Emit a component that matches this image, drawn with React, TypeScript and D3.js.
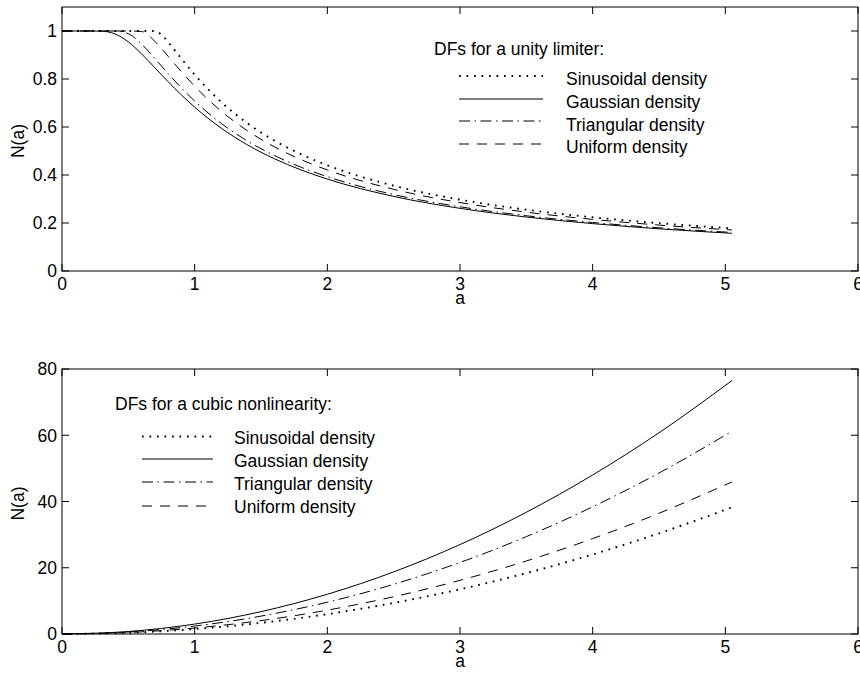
import React from "react";
import * as d3 from "d3";

// ---------- data ----------
const limiterA = [0, 0.1, 0.2, 0.3, 0.4, 0.5, 0.6, 0.7, 0.75, 0.8, 0.9, 1.0, 1.2, 1.4, 1.6, 1.8, 2.0, 2.5, 3.0, 3.5, 4.0, 4.5, 5.05];
const limiterSinusoidal = [1, 1, 1, 1, 1, 1, 1, 1, 0.9838, 0.9541, 0.8848, 0.8183, 0.7042, 0.6147, 0.5437, 0.487, 0.4406, 0.3552, 0.2973, 0.2555, 0.2239, 0.1993, 0.1777];
const limiterGaussian = [1, 1, 1, 0.9992, 0.9876, 0.9545, 0.9044, 0.8469, 0.8176, 0.7887, 0.7335, 0.6827, 0.5953, 0.525, 0.468, 0.4215, 0.383, 0.3108, 0.2611, 0.2249, 0.1974, 0.1758, 0.157];
const limiterTriangular = [1, 1, 1, 1, 1, 0.9888, 0.9451, 0.8854, 0.8539, 0.8227, 0.7629, 0.7082, 0.615, 0.5409, 0.4814, 0.4329, 0.393, 0.3186, 0.2675, 0.2303, 0.2021, 0.18, 0.1607];
const limiterUniform = [1, 1, 1, 1, 1, 1, 0.998, 0.9566, 0.9266, 0.8946, 0.8302, 0.7698, 0.666, 0.5835, 0.5178, 0.4646, 0.421, 0.3403, 0.2851, 0.2452, 0.215, 0.1914, 0.1707];

const cubicA = [0, 0.5, 1, 1.5, 2, 2.5, 3, 3.5, 4, 4.5, 5.05];
const cubicSinusoidal = [0, 0.375, 1.5, 3.375, 6, 9.375, 13.5, 18.375, 24, 30.375, 38.25];
const cubicGaussian = [0, 0.75, 3, 6.75, 12, 18.75, 27, 36.75, 48, 60.75, 76.51];
const cubicTriangular = [0, 0.6, 2.4, 5.4, 9.6, 15, 21.6, 29.4, 38.4, 48.6, 61.21];
const cubicUniform = [0, 0.45, 1.8, 4.05, 7.2, 11.25, 16.2, 22.05, 28.8, 36.45, 45.9];

const seriesNames = ["Sinusoidal density", "Gaussian density", "Triangular density", "Uniform density"];
const xTicks = [0, 1, 2, 3, 4, 5, 6];
const topYTicks = [0, 0.2, 0.4, 0.6, 0.8, 1];
const bottomYTicks = [0, 20, 40, 60, 80];
const topTitle = "DFs for a unity limiter:";
const bottomTitle = "DFs for a cubic nonlinearity:";

// ---------- styles ----------
const FONT = "'Liberation Sans', Arial, Helvetica, sans-serif";
const FS = 17.5;
const styles = [
  { dash: "1.7,5.8", width: 1.9 },
  { dash: "none", width: 1 },
  { dash: "11,4.5,1.5,4.5", width: 1 },
  { dash: "10,8", width: 1 },
];

const W = 860;
const H = 677;
const X0 = 62;
const X1 = 858;

type PanelProps = {
  xs: number[];
  series: number[][];
  yDomain: [number, number];
  yRange: [number, number];
  yTicks: number[];
  yFmt: (v: number) => string;
  title: string;
  titleX: number;
  titleY: number;
  legLineX0: number;
  legLineX1: number;
  legTextX: number;
  legLineY: number[];
  legTextY: number[];
};

function Panel(p: PanelProps) {
  const x = d3.scaleLinear().domain([0, 6]).range([X0, X1]);
  const y = d3.scaleLinear().domain(p.yDomain).range(p.yRange);
  const [yb, yt] = p.yRange;
  const line = d3
    .line<number>()
    .x((_, i) => x(p.xs[i]))
    .y((d) => y(d))
    .curve(d3.curveMonotoneX);
  const tick = 7;
  return (
    <g>
      {p.series.map((s, i) => (
        <path
          key={"c" + i}
          d={line(s) || ""}
          fill="none"
          stroke="#000"
          strokeWidth={styles[i].width}
          strokeDasharray={styles[i].dash}
        />
      ))}
      <rect x={X0} y={yt} width={X1 - X0} height={yb - yt} fill="none" stroke="#000" strokeWidth={1} />
      {xTicks.map((t) => (
        <g key={"xt" + t}>
          <line x1={x(t)} x2={x(t)} y1={yb} y2={yb - tick} stroke="#000" />
          <line x1={x(t)} x2={x(t)} y1={yt} y2={yt + tick} stroke="#000" />
          <text x={x(t)} y={yb + 18.5} textAnchor="middle" fontSize={FS} fontFamily={FONT}>
            {t}
          </text>
        </g>
      ))}
      {p.yTicks.map((t) => (
        <g key={"yt" + t}>
          <line x1={X0} x2={X0 + tick} y1={y(t)} y2={y(t)} stroke="#000" />
          <line x1={X1} x2={X1 - tick} y1={y(t)} y2={y(t)} stroke="#000" />
          <text x={57} y={y(t)} dy="0.36em" textAnchor="end" fontSize={FS} fontFamily={FONT}>
            {p.yFmt(t)}
          </text>
        </g>
      ))}
      <text x={(X0 + X1) / 2} y={yb + 33} textAnchor="middle" fontSize={FS} fontFamily={FONT}>
        a
      </text>
      <text
        transform={`translate(24,${(yb + yt) / 2 + 2}) rotate(-90)`}
        textAnchor="middle"
        fontSize={FS}
        fontFamily={FONT}
      >
        N(a)
      </text>
      <text x={p.titleX} y={p.titleY} fontSize={FS} fontFamily={FONT}>
        {p.title}
      </text>
      {seriesNames.map((n, i) => (
        <g key={"lg" + i}>
          <line
            x1={p.legLineX0}
            x2={p.legLineX1}
            y1={p.legLineY[i]}
            y2={p.legLineY[i]}
            stroke="#000"
            strokeWidth={styles[i].width}
            strokeDasharray={styles[i].dash}
          />
          <text x={p.legTextX} y={p.legTextY[i]} fontSize={FS} fontFamily={FONT}>
            {n}
          </text>
        </g>
      ))}
    </g>
  );
}

export default function App() {
  return (
    <svg
      width={W}
      height={H}
      viewBox={`0 0 ${W} ${H}`}
      style={{ position: "absolute", left: 0, top: 0, background: "#fff" }}
    >
      <rect x={0} y={0} width={W} height={H} fill="#fff" />
      <Panel
        xs={limiterA}
        series={[limiterSinusoidal, limiterGaussian, limiterTriangular, limiterUniform]}
        yDomain={[0, 1.1]}
        yRange={[271, 7]}
        yTicks={topYTicks}
        yFmt={(v) => (v === 0 || v === 1 ? String(v) : v.toFixed(1))}
        title={topTitle}
        titleX={434}
        titleY={55}
        legLineX0={459}
        legLineX1={543}
        legTextX={566}
        legLineY={[76, 99, 121, 144]}
        legTextY={[85, 108, 130.5, 153]}
      />
      <Panel
        xs={cubicA}
        series={[cubicSinusoidal, cubicGaussian, cubicTriangular, cubicUniform]}
        yDomain={[0, 80]}
        yRange={[634, 369]}
        yTicks={bottomYTicks}
        yFmt={(v) => String(v)}
        title={bottomTitle}
        titleX={115}
        titleY={410}
        legLineX0={142}
        legLineX1={213}
        legTextX={234}
        legLineY={[436.5, 459, 482, 506]}
        legTextY={[443.5, 467, 490, 513]}
      />
    </svg>
  );
}
